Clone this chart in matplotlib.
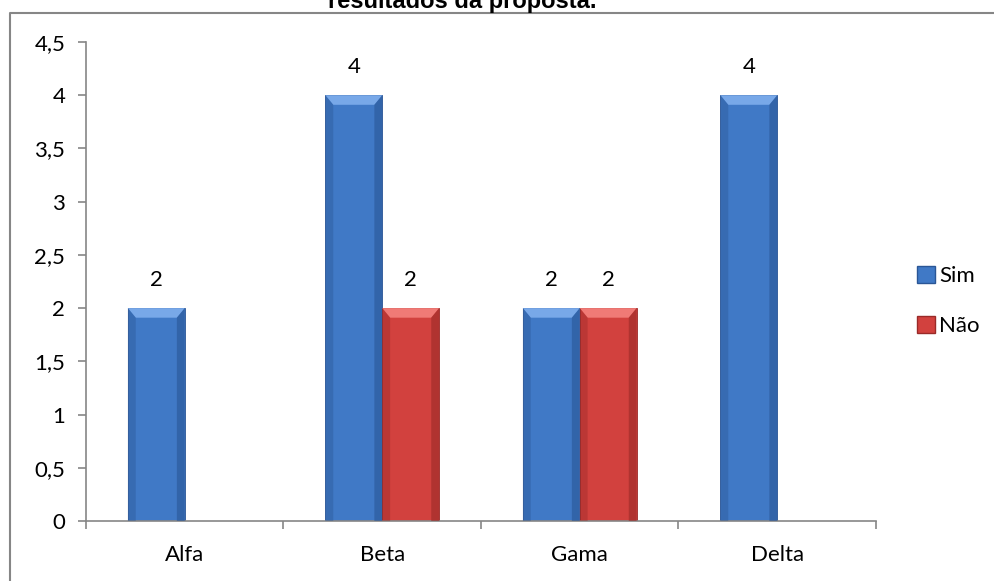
import matplotlib.pyplot as plt
import matplotlib.patches as mpatches
from matplotlib.lines import Line2D
import numpy as np

## Data
categorias = ['Alfa', 'Beta', 'Gama', 'Delta']
sim = [2, 4, 2, 4]
nao = [0, 2, 2, 0]
yticks = [0, 0.5, 1, 1.5, 2, 2.5, 3, 3.5, 4, 4.5]
ytick_labels = ['0', '0,5', '1', '1,5', '2', '2,5', '3', '3,5', '4', '4,5']

## Styles
azul = ('#4079C6', '#78A8E8', '#2A5696')
vermelho = ('#D2413E', '#F07A76', '#9A2A28')
font_txt = ['Lato', 'DejaVu Sans']
fs = 16

fig = plt.figure(figsize=(9.95, 5.81), dpi=100)
ax = fig.add_axes([86 / 995, 60 / 581, 790 / 995, 479 / 581])

x = np.arange(len(categorias))
w = 0.288


def bevel(ax, bars, cores):
    base, claro, escuro = cores
    dx, dy = 0.04, 0.09
    for b in bars:
        h = b.get_height()
        if h <= 0:
            continue
        x0, bw = b.get_x(), b.get_width()
        ax.add_patch(mpatches.Polygon([(x0, h), (x0 + bw, h), (x0 + bw - dx, h - dy), (x0 + dx, h - dy)],
                                      closed=True, facecolor=claro, edgecolor='none', zorder=3))
        ax.add_patch(mpatches.Polygon([(x0, 0), (x0, h), (x0 + dx, h - dy), (x0 + dx, 0)],
                                      closed=True, facecolor=escuro, alpha=0.4, edgecolor='none', zorder=3))
        ax.add_patch(mpatches.Polygon([(x0 + bw, 0), (x0 + bw, h), (x0 + bw - dx, h - dy), (x0 + bw - dx, 0)],
                                      closed=True, facecolor=escuro, alpha=0.6, edgecolor='none', zorder=3))
        ax.text(x0 + bw / 2, h + 0.17, str(h), ha='center', va='bottom', fontsize=fs,
                family=font_txt, color='black')


b1 = ax.bar(x - w / 2, sim, w, color=azul[0], edgecolor=azul[2], linewidth=0.6, zorder=2)
b2 = ax.bar(x + w / 2, nao, w, color=vermelho[0], edgecolor=vermelho[2], linewidth=0.6, zorder=2)
bevel(ax, b1, azul)
bevel(ax, b2, vermelho)

ax.set_xlim(-0.5, len(categorias) - 0.5)
ax.set_ylim(0, 4.5)
ax.set_yticks(yticks)
ax.set_yticklabels(ytick_labels, family=font_txt, fontsize=fs)
ax.set_xticks(x)
ax.set_xticklabels(categorias, family=font_txt, fontsize=fs)
ax.set_xticks(np.arange(-0.5, len(categorias)), minor=True)
ax.tick_params(axis='x', which='major', length=0, pad=17)
ax.tick_params(axis='x', which='minor', length=6, color='#868686', width=1.2)
ax.tick_params(axis='y', length=6, color='#868686', width=1.2, pad=9)
for s in ['top', 'right']:
    ax.spines[s].set_visible(False)
for s in ['left', 'bottom']:
    ax.spines[s].set_color('#868686')
    ax.spines[s].set_linewidth(1.2)

## Legend
handles = [mpatches.Patch(facecolor=azul[0], edgecolor=azul[2], label='Sim'),
           mpatches.Patch(facecolor=vermelho[0], edgecolor=vermelho[2], label='Não')]
fig.legend(handles=handles, loc='center left', bbox_to_anchor=(897 / 995, 1 - 301 / 581),
           frameon=False, prop={'family': font_txt, 'size': fs}, handlelength=0.8,
           handleheight=0.8, handletextpad=0.2, labelspacing=1.35)

## Title (cut at the top, as in the source) and frame
fig.text(462 / 995, 1 - 8 / 581, 'resultados da proposta.', ha='center', va='baseline',
         fontsize=17, fontweight='bold', family=['Liberation Sans', 'DejaVu Sans'])
fig.add_artist(Line2D([10 / 995, 10 / 995, 1], [0, 1 - 12.5 / 581, 1 - 12.5 / 581],
                      transform=fig.transFigure, color='#868686', linewidth=1.5))

fig.savefig('out.png', dpi=100)
